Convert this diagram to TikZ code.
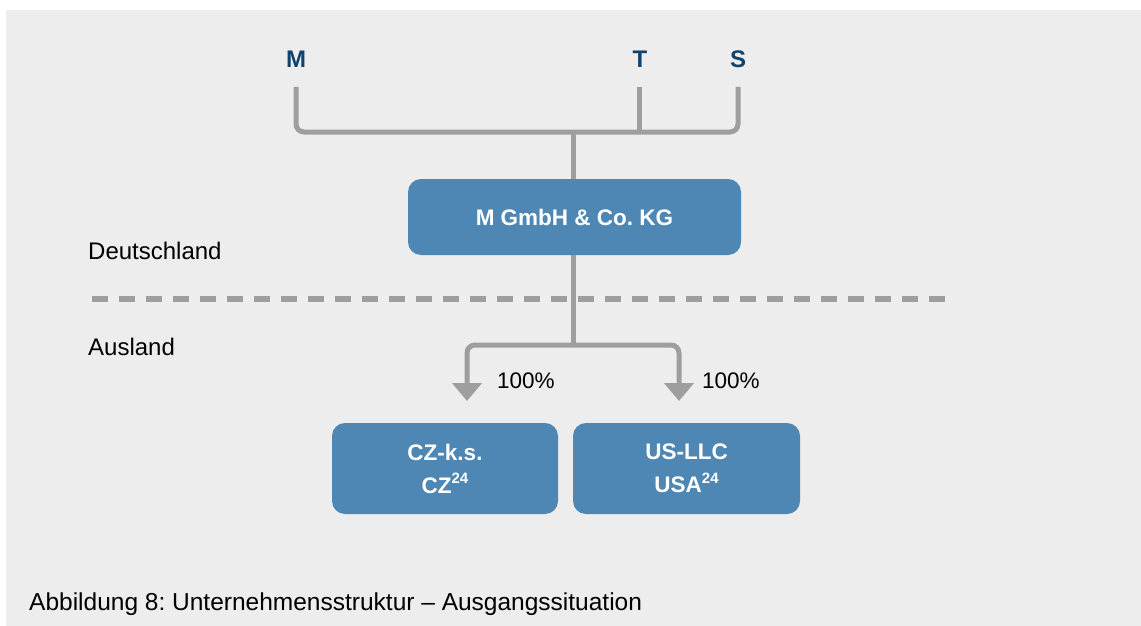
\documentclass[tikz,border=0pt]{standalone}
\usepackage{fontspec}
\setmainfont{Liberation Sans}
\usetikzlibrary{arrows.meta}
\definecolor{bgc}{HTML}{EDEDED}
\definecolor{boxc}{HTML}{4F87B4}
\definecolor{linec}{HTML}{9E9E9E}
\definecolor{darkc}{HTML}{0F426F}
\frenchspacing
\newcommand{\supnum}[1]{\raisebox{0.42em}{\bfseries\fontsize{15}{15}\selectfont #1}}
\begin{document}
\begin{tikzpicture}[x=1pt,y=-1pt,
  entity/.style={draw=none,fill=boxc,rounded corners=13pt,text=white,font=\bfseries\fontsize{22.5}{33}\selectfont,align=center,inner sep=0pt},
  owner/.style={text=darkc,font=\bfseries\fontsize{24}{28}\selectfont,anchor=base,inner sep=0pt},
  plain/.style={font=\fontsize{24}{28}\selectfont,anchor=base west,inner sep=0pt},
  pct/.style={font=\fontsize{22.5}{27}\selectfont,anchor=base west,inner sep=0pt},
  conn/.style={draw=linec,line width=5pt,rounded corners=8pt},
  arr/.style={conn,-{Triangle[width=29pt,length=18pt]}}
]
\useasboundingbox (0,0) rectangle (1141,626);
\fill[bgc] (6,10) rectangle (1141,626);

% owners
\node[owner] (m) at (296,67) {M};
\node[owner] (t) at (640,67) {T};
\node[owner] (s) at (738,67) {S};
\coordinate (mtop) at (296,87);
\coordinate (ttop) at (639,87);
\coordinate (stop) at (738,87);
\coordinate (tbar) at (639,132);
\coordinate (join) at (573,132);

% main box
\node[entity,minimum width=333pt,minimum height=76pt] (gmbh) at (574.5,217) {M GmbH \& Co. KG};

% subsidiaries
\node[entity,minimum width=226pt,minimum height=91pt] (cz) at (445,468.5) {CZ-k.s.\\CZ\supnum{24}};
\node[entity,minimum width=227pt,minimum height=91pt] (us) at (686.5,468.5) {US-LLC\\USA\supnum{24}};

% region labels
\node[plain] (de) at (88,259) {Deutschland};
\node[plain] (au) at (88,355) {Ausland};
\draw[linec,line width=6pt,dash pattern=on 16pt off 11pt] (92,299) -- (947,299);

% upper bracket
\draw[conn] (mtop) -- (296,132) -- (738,132) -- (stop);
\draw[conn,rounded corners=0pt] (ttop) -- (tbar);
\draw[conn,rounded corners=0pt] (join) -- (join |- gmbh.north);

% lower connectors
\coordinate (split) at (573,345);
\coordinate (czarr) at (467,401);
\coordinate (usarr) at (679,401);
\draw[conn,rounded corners=0pt] (split |- gmbh.south) -- (split);
\draw[arr] (split) -| (czarr);
\draw[arr] (split) -| (usarr);
\node[pct] (p1) at (497,388) {100\%};
\node[pct] (p2) at (702,388) {100\%};

% caption
\node[plain,font=\fontsize{24.5}{28}\selectfont] (cap) at (29,610) {Abbildung 8: Unternehmensstruktur – Ausgangssituation};
\end{tikzpicture}
\end{document}
